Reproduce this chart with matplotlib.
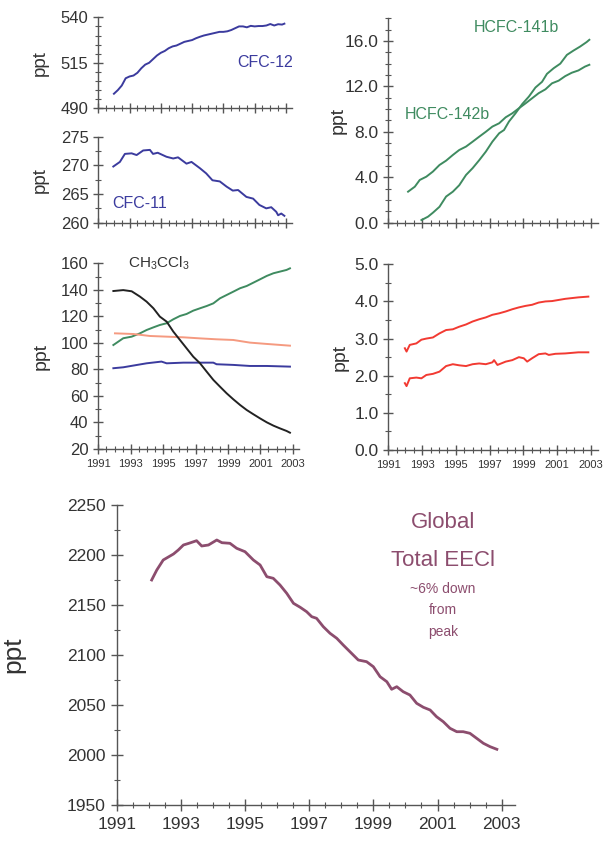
import matplotlib
matplotlib.use("Agg")
import matplotlib.pyplot as plt
from matplotlib.ticker import MultipleLocator

plt.rcParams["font.family"] = ["Liberation Sans", "DejaVu Sans"]
plt.rcParams["mathtext.fontset"] = "custom"
plt.rcParams["mathtext.rm"] = "Liberation Sans"

# ---- data ----
cfc12_yr = [1992.0, 1992.25, 1992.5, 1992.75, 1993.0, 1993.25, 1993.5, 1993.75, 1994.0, 1994.25,
            1994.5, 1994.75, 1995.0, 1995.25, 1995.5, 1995.75, 1996.0, 1996.25, 1996.5, 1996.75,
            1997.0, 1997.25, 1997.5, 1997.75, 1998.0, 1998.25, 1998.5, 1998.75, 1999.0, 1999.25,
            1999.5, 1999.75, 2000.0, 2000.25, 2000.5, 2000.75, 2001.0, 2001.25, 2001.5, 2001.75,
            2002.0, 2002.25, 2002.5, 2002.75, 2002.9]
cfc12 = [498.0, 500.0, 502.5, 506.5, 507.5, 508.0, 509.5, 512.0, 514.0, 515.0,
         517.0, 519.0, 520.5, 521.5, 523.0, 524.0, 524.5, 525.5, 526.5, 527.0,
         527.5, 528.5, 529.3, 530.0, 530.5, 531.0, 531.5, 532.0, 532.0, 532.3,
         533.0, 534.0, 535.0, 535.0, 534.5, 535.3, 535.0, 535.2, 535.2, 535.5,
         536.3, 535.5, 536.2, 536.0, 536.5]

cfc11_yr = [1991.96, 1992.38, 1992.7, 1993.13, 1993.45, 1993.87, 1994.3, 1994.5, 1994.8, 1995.36,
            1995.79, 1996.1, 1996.64, 1996.96, 1997.5, 1997.9, 1998.3, 1998.77, 1999.2, 1999.6,
            1999.94, 2000.47, 2000.9, 2001.3, 2001.74, 2002.06, 2002.38, 2002.5, 2002.7, 2002.9]
cfc11 = [269.8, 270.6, 272.0, 272.1, 271.8, 272.6, 272.7, 272.0, 272.2, 271.5,
         271.2, 271.4, 270.3, 270.6, 269.5, 268.6, 267.4, 267.2, 266.3, 265.6,
         265.7, 264.5, 264.2, 263.1, 262.5, 262.7, 261.9, 261.3, 261.6, 261.2]

h142b_yr = [1992.17, 1992.57, 1992.86, 1993.25, 1993.64, 1994.03, 1994.42, 1994.82, 1995.2, 1995.6,
            1995.99, 1996.38, 1996.77, 1997.16, 1997.56, 1997.95, 1998.34, 1998.73, 1999.12, 1999.51,
            1999.9, 2000.3, 2000.69, 2001.08, 2001.47, 2001.86, 2002.25, 2002.64, 2002.9]
h142b = [2.73, 3.17, 3.76, 4.05, 4.5, 5.08, 5.46, 5.96, 6.4, 6.7,
         7.13, 7.57, 8.0, 8.46, 8.75, 9.28, 9.63, 10.07, 10.5, 10.95,
         11.4, 11.74, 12.27, 12.5, 12.9, 13.2, 13.4, 13.74, 13.9]

h141b_yr = [1992.96, 1993.35, 1993.64, 1994.03, 1994.42, 1994.82, 1995.2, 1995.6, 1995.99, 1996.38,
            1996.77, 1997.16, 1997.56, 1997.85, 1998.14, 1998.53, 1998.93, 1999.32, 1999.71, 2000.1,
            2000.39, 2000.79, 2001.18, 2001.57, 2001.96, 2002.35, 2002.74, 2002.9]
h141b = [0.23, 0.53, 0.88, 1.4, 2.3, 2.73, 3.3, 4.2, 4.8, 5.5,
         6.25, 7.13, 7.87, 8.16, 8.9, 9.63, 10.45, 11.1, 11.9, 12.4,
         13.1, 13.6, 14.0, 14.77, 15.15, 15.5, 15.9, 16.1]

mid_yr = [1991.93, 1992.54, 1993.06, 1993.57, 1993.98, 1994.4, 1994.8, 1995.22, 1995.63, 1996.04,
          1996.45, 1996.86, 1997.28, 1997.69, 1998.1, 1998.51, 1998.92, 1999.33, 1999.75, 2000.16,
          2000.57, 2000.98, 2001.4, 2001.81, 2002.2, 2002.62, 2002.83]
ch3ccl3 = [139.1, 139.8, 138.9, 134.9, 131.1, 126.1, 119.8, 116.0, 108.5, 102.2,
           95.9, 89.6, 84.6, 78.3, 72.1, 67.0, 62.0, 57.5, 53.2, 49.4,
           46.2, 43.1, 40.1, 37.6, 35.6, 33.6, 32.3]
hcfc22 = [98.4, 103.5, 104.7, 107.2, 109.7, 111.7, 113.5, 114.8, 117.8, 120.3,
          121.8, 124.3, 126.1, 127.8, 129.8, 133.6, 136.1, 138.6, 141.2, 142.9,
          145.4, 147.9, 150.5, 152.5, 153.7, 155.0, 156.2]

ccl4_yr = [1992.03, 1993.16, 1994.19, 1995.22, 1996.25, 1997.28, 1998.3, 1999.33, 2000.36, 2001.4, 2002.83]
ccl4 = [107.2, 106.7, 105.2, 104.7, 104.2, 103.4, 102.7, 102.2, 100.2, 99.2, 97.9]

mcf_yr = [1991.93, 1992.54, 1993.16, 1993.98, 1994.9, 1995.22, 1996.25, 1997.28, 1998.1, 1998.3,
          1999.33, 2000.36, 2001.4, 2002.83]
mcf_blue = [80.9, 81.6, 82.9, 84.6, 85.9, 84.6, 85.1, 85.1, 85.1, 83.9,
            83.4, 82.6, 82.6, 82.1]

red_hi_yr = [1991.98, 1992.08, 1992.27, 1992.66, 1992.96, 1993.25, 1993.64, 1994.03, 1994.42, 1994.82,
             1995.2, 1995.6, 1995.99, 1996.38, 1996.77, 1997.16, 1997.56, 1997.95, 1998.34, 1998.73,
             1999.12, 1999.51, 1999.9, 2000.3, 2000.69, 2001.08, 2001.47, 2001.86, 2002.25, 2002.84]
red_hi = [2.74, 2.65, 2.83, 2.87, 2.97, 3.0, 3.03, 3.14, 3.23, 3.25,
          3.32, 3.38, 3.46, 3.52, 3.57, 3.64, 3.68, 3.73, 3.79, 3.84,
          3.88, 3.91, 3.97, 4.0, 4.01, 4.04, 4.07, 4.09, 4.11, 4.13]

red_lo_yr = [1991.98, 1992.08, 1992.27, 1992.66, 1992.96, 1993.25, 1993.64, 1994.03, 1994.42, 1994.82,
             1995.2, 1995.6, 1995.99, 1996.38, 1996.77, 1997.16, 1997.26, 1997.46, 1997.95, 1998.34,
             1998.73, 1999.02, 1999.22, 1999.51, 1999.9, 2000.3, 2000.5, 2000.89, 2001.47, 2002.25, 2002.84]
red_lo = [1.8, 1.72, 1.93, 1.95, 1.93, 2.02, 2.05, 2.11, 2.26, 2.31,
          2.28, 2.26, 2.31, 2.33, 2.31, 2.36, 2.42, 2.29, 2.38, 2.42,
          2.5, 2.47, 2.38, 2.47, 2.58, 2.6, 2.56, 2.59, 2.6, 2.63, 2.63]

eecl_yr = [1992.09, 1992.25, 1992.45, 1992.77, 1992.92, 1993.08, 1993.25, 1993.49, 1993.65, 1993.86,
           1994.12, 1994.28, 1994.53, 1994.74, 1995.0, 1995.26, 1995.47, 1995.68, 1995.88, 1996.09,
           1996.3, 1996.51, 1996.72, 1996.92, 1997.08, 1997.23, 1997.44, 1997.65, 1997.86, 1998.06,
           1998.27, 1998.53, 1998.79, 1999.0, 1999.21, 1999.42, 1999.57, 1999.73, 1999.93, 2000.14,
           2000.35, 2000.56, 2000.77, 2000.97, 2001.18, 2001.39, 2001.6, 2001.8, 2002.01, 2002.22,
           2002.43, 2002.64, 2002.85]
eecl = [2175, 2185, 2195, 2201, 2205, 2210, 2211.7, 2214.3, 2209, 2210,
        2215, 2212.3, 2211.7, 2206.7, 2203.3, 2195, 2190, 2178.3, 2176.7, 2170,
        2161.7, 2151.7, 2147.7, 2143.3, 2138.3, 2136.7, 2128.3, 2121.7, 2116.7, 2110,
        2103.3, 2095, 2093.3, 2088.3, 2078.3, 2073.3, 2065.7, 2068.3, 2063.3, 2060,
        2051.7, 2047.7, 2045, 2038.3, 2033.3, 2026.7, 2023.3, 2023.3, 2021.7, 2016.7,
        2011.7, 2008.3, 2005.7]

years_major = [1991, 1993, 1995, 1997, 1999, 2001, 2003]

blue = "#3b3b9e"
green = "#3f8b60"
salmon = "#f59a80"
red = "#f23a32"
purple = "#8c4d6e"
axis_gray = "#555555"
text_gray = "#333333"

W, H = 606, 843
fig = plt.figure(figsize=(W / 100, H / 100), dpi=100)


def px_axes(left, top, right, bottom):
    return fig.add_axes([left / W, 1 - bottom / H, (right - left) / W, (bottom - top) / H])


def style(ax, ylim, ymajor, yminor, xlabels, tick_fs, xtick_fs, label_x, label_fs=13.5):
    ax.set_xlim(1991, 2003.4)
    ax.set_ylim(*ylim)
    for s in ["top", "right"]:
        ax.spines[s].set_visible(False)
    for s in ["left", "bottom"]:
        ax.spines[s].set_color(axis_gray)
        ax.spines[s].set_linewidth(1.0)
    ax.set_xticks(years_major)
    ax.xaxis.set_minor_locator(MultipleLocator(0.5))
    ax.set_yticks(ymajor)
    ax.yaxis.set_minor_locator(MultipleLocator(yminor))
    ax.tick_params(which="major", direction="inout", length=7, width=1.0, color=axis_gray,
                   labelcolor=text_gray, labelsize=tick_fs)
    ax.tick_params(which="minor", direction="inout", length=4, width=0.8, color=axis_gray)
    ax.tick_params(axis="x", labelsize=xtick_fs, labelbottom=xlabels, pad=4)
    ax.set_ylabel("ppt", fontsize=label_fs, color=text_gray)
    ax.yaxis.set_label_coords(label_x, 0.5)


# CFC-12
ax1 = px_axes(98.3, 17.3, 292.2, 108.3)
ax1.plot(cfc12_yr, cfc12, color=blue, lw=1.4)
style(ax1, (490, 540), [490, 515, 540], 5, False, 12, 8, -0.254)
ax1.text(2001.66, 514.9, "CFC-12", color=blue, fontsize=11.5, ha="center", va="center")

# CFC-11
ax2 = px_axes(98.3, 136.7, 292.2, 222.7)
ax2.plot(cfc11_yr, cfc11, color=blue, lw=1.4)
style(ax2, (260, 275), [260, 265, 270, 275], 2.5, False, 12, 8, -0.254)
ax2.text(1993.67, 263.3, "CFC-11", color=blue, fontsize=11.5, ha="center", va="center")

# HCFCs
ax3 = px_axes(388.3, 18.2, 597.8, 222.7)
ax3.plot(h142b_yr, h142b, color=green, lw=1.4)
ax3.plot(h141b_yr, h141b, color=green, lw=1.4)
style(ax3, (0, 18), [0, 4, 8, 12, 16], 1, False, 12.5, 8, -0.197, 14)
ax3.set_yticklabels(["0.0", "4.0", "8.0", "12.0", "16.0"])
ax3.text(1998.6, 17.2, "HCFC-141b", color=green, fontsize=11.5, ha="center", va="center")
ax3.text(1994.5, 9.5, "HCFC-142b", color=green, fontsize=11.5, ha="center", va="center")

# CH3CCl3 and others
ax4 = px_axes(98.3, 263.3, 299.2, 449)
ax4.plot(mid_yr, hcfc22, color=green, lw=1.4)
ax4.plot(ccl4_yr, ccl4, color=salmon, lw=1.4)
ax4.plot(mcf_yr, mcf_blue, color=blue, lw=1.4)
ax4.plot(mid_yr, ch3ccl3, color="#222222", lw=1.4)
style(ax4, (20, 160), [20, 40, 60, 80, 100, 120, 140, 160], 10, True, 12, 8, -0.24, 14)
ax4.text(1992.83, 160, r"CH$_3$CCl$_3$", color=text_gray, fontsize=11, ha="left", va="center")

# red pair
ax5 = px_axes(388.3, 264.3, 597.8, 450)
ax5.plot(red_hi_yr, red_hi, color=red, lw=1.4)
ax5.plot(red_lo_yr, red_lo, color=red, lw=1.4)
style(ax5, (0, 5), [0, 1, 2, 3, 4, 5], 0.5, True, 12.5, 8, -0.188, 14)
ax5.set_yticklabels(["0.0", "1.0", "2.0", "3.0", "4.0", "5.0"])

# Global total EECl
ax6 = px_axes(116.7, 505, 514.5, 805)
ax6.plot(eecl_yr, eecl, color=purple, lw=2.0)
style(ax6, (1950, 2250), [1950, 2000, 2050, 2100, 2150, 2200, 2250], 25, True, 12.5, 12.5, -0.23, 19)
ax6.tick_params(which="major", length=9)
ax6.tick_params(which="minor", length=5)
ax6.text(2001.17, 2233, "Global", color=purple, fontsize=16, ha="center", va="center")
ax6.text(2001.17, 2195, "Total EECl", color=purple, fontsize=16, ha="center", va="center")
ax6.text(2001.17, 2166, "~6% down", color=purple, fontsize=10, ha="center", va="center")
ax6.text(2001.17, 2145, "from", color=purple, fontsize=10, ha="center", va="center")
ax6.text(2001.17, 2123, "peak", color=purple, fontsize=10, ha="center", va="center")

fig.savefig("out.png", dpi=100)
